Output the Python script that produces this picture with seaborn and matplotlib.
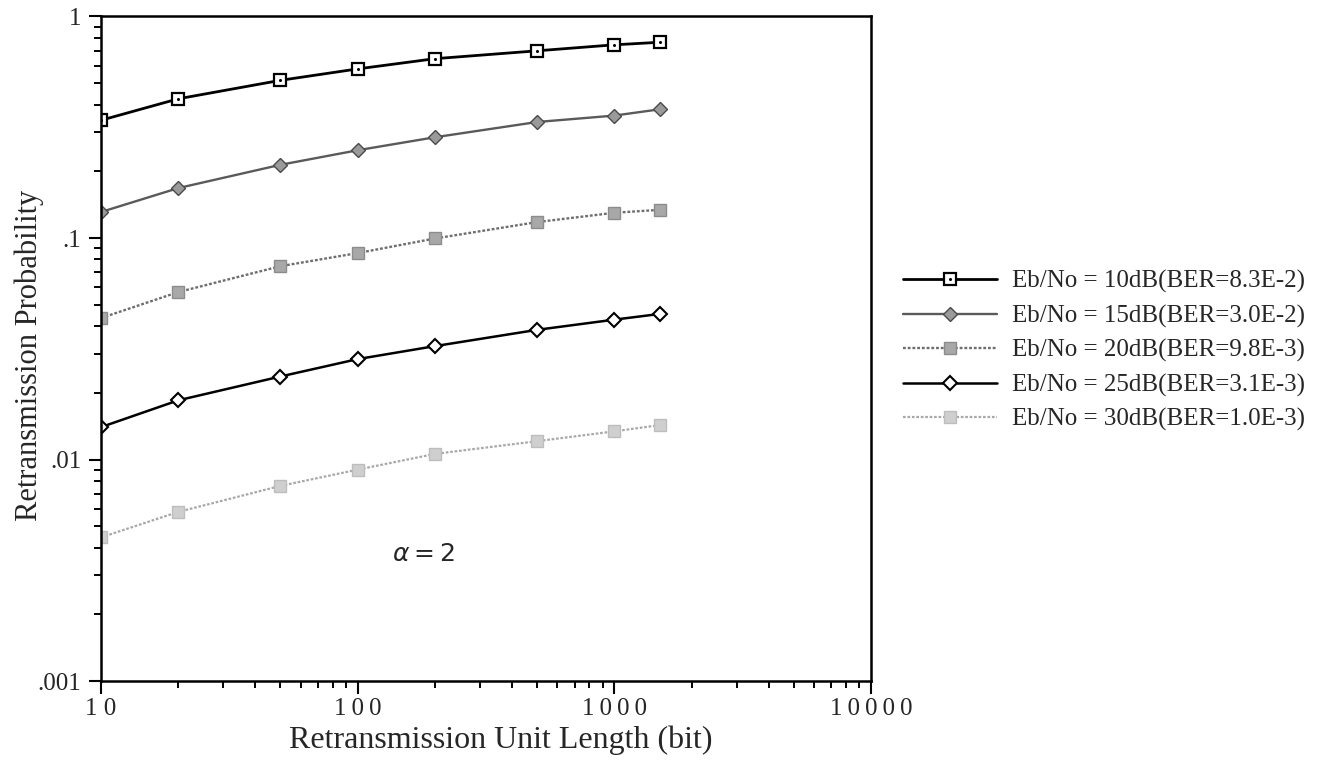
import numpy as np
import pandas as pd
import matplotlib
matplotlib.use("Agg")
import matplotlib.pyplot as plt
from matplotlib.ticker import LogLocator, NullFormatter, FixedLocator
import seaborn as sns

# Retransmission unit length (bit) and retransmission probability per Eb/No
unit_length = [10, 20, 50, 100, 200, 500, 1000, 1500]
p_10db = [0.34, 0.425, 0.515, 0.58, 0.645, 0.70, 0.745, 0.765]
p_15db = [0.131, 0.168, 0.214, 0.249, 0.285, 0.334, 0.357, 0.381]
p_20db = [0.0435, 0.057, 0.0746, 0.0855, 0.0995, 0.118, 0.130, 0.134]
p_25db = [0.0140, 0.0185, 0.0237, 0.0284, 0.0325, 0.0385, 0.0428, 0.0454]
p_30db = [0.00445, 0.0058, 0.0076, 0.0090, 0.0106, 0.0121, 0.0134, 0.0143]

series_labels = [
    "Eb/No = 10dB(BER=8.3E-2)",
    "Eb/No = 15dB(BER=3.0E-2)",
    "Eb/No = 20dB(BER=9.8E-3)",
    "Eb/No = 25dB(BER=3.1E-3)",
    "Eb/No = 30dB(BER=1.0E-3)",
]
x_tick_values = [10, 100, 1000, 10000]
x_tick_labels = ["1 0", "1\u20090\u20090", "1\u20090\u20090\u20090", "1\u20090\u20090\u20090\u20090"]
y_tick_values = [0.001, 0.01, 0.1, 1]
y_tick_labels = [".001", ".01", ".1", "1"]

sns.set_style("ticks")
plt.rcParams["font.family"] = ["Liberation Serif", "DejaVu Serif"]
plt.rcParams["mathtext.fontset"] = "dejavusans"

frames = []
for lab, vals in zip(series_labels, [p_10db, p_15db, p_20db, p_25db, p_30db]):
    frames.append(pd.DataFrame({"length": unit_length, "prob": vals, "series": lab}))
df = pd.concat(frames, ignore_index=True)

styles = {
    series_labels[0]: dict(color="black", lw=2.0, ls="-", marker="s", ms=8.5,
                           mfc="white", mec="black", mew=1.6),
    series_labels[1]: dict(color="#5a5a5a", lw=1.7, ls="-", marker="D", ms=7.5,
                           mfc="#9a9a9a", mec="#4a4a4a", mew=1.0),
    series_labels[2]: dict(color="#6e6e6e", lw=1.7, ls=(0, (1.2, 0.8)), marker="s", ms=9,
                           mfc="#a8a8a8", mec="#8c8c8c", mew=1.0),
    series_labels[3]: dict(color="black", lw=1.8, ls="-", marker="D", ms=7,
                           mfc="white", mec="black", mew=1.5),
    series_labels[4]: dict(color="#a8a8a8", lw=1.6, ls=(0, (1.2, 0.8)), marker="s", ms=9,
                           mfc="#cfcfcf", mec="#bdbdbd", mew=1.0),
}

fig = plt.figure(figsize=(13.37, 7.71), dpi=100)
ax = fig.add_axes([0.0755, 0.1167, 0.5760, 0.8619])

handles = []
for lab in series_labels:
    sub = df[df["series"] == lab]
    st = styles[lab]
    sns.lineplot(data=sub, x="length", y="prob", ax=ax, errorbar=None,
                 color=st["color"], linewidth=st["lw"], linestyle=st["ls"],
                 marker=st["marker"], markersize=st["ms"],
                 markerfacecolor=st["mfc"], markeredgecolor=st["mec"],
                 markeredgewidth=st["mew"], label=lab, legend=False)
    handles.append(ax.lines[-1])

# centre dots inside the square markers of the 10 dB curve
sub = df[df["series"] == series_labels[0]]
sns.lineplot(data=sub, x="length", y="prob", ax=ax, errorbar=None,
             color="black", linestyle="none", marker="o", markersize=2.2,
             markeredgewidth=0, legend=False)
dots = ax.lines[-1]

ax.set_xscale("log")
ax.set_yscale("log")
ax.set_xlim(10, 10000)
ax.set_ylim(0.001, 1)

ax.xaxis.set_major_locator(FixedLocator(x_tick_values))
ax.set_xticklabels(x_tick_labels)
ax.xaxis.set_minor_locator(LogLocator(base=10, subs=np.arange(2, 10)))
ax.xaxis.set_minor_formatter(NullFormatter())
ax.yaxis.set_major_locator(FixedLocator(y_tick_values))
ax.set_yticklabels(y_tick_labels)
ax.yaxis.set_minor_locator(LogLocator(base=10, subs=np.arange(2, 10)))
ax.yaxis.set_minor_formatter(NullFormatter())

for s in ax.spines.values():
    s.set_visible(True)
    s.set_linewidth(1.8)
    s.set_color("black")
ax.tick_params(which="major", direction="out", length=9, width=1.5, color="black",
               labelsize=18, pad=3)
ax.tick_params(which="minor", direction="out", length=5, width=1.4, color="black")
ax.tick_params(axis="y", which="major", pad=5)
ax.grid(False)

ax.set_xlabel("Retransmission Unit Length (bit)", fontsize=23)
ax.set_ylabel("Retransmission Probability", fontsize=22)
ax.xaxis.set_label_coords(0.519, -0.067)
ax.yaxis.set_label_coords(-0.074, 0.4906)

ax.text(180, 0.0037, r"$\alpha = 2$", fontsize=18, ha="center", va="center")

leg_handles = [(handles[0], dots)] + handles[1:]
fig.legend(leg_handles, series_labels, loc="upper left",
           bbox_to_anchor=(903 / 1337, 1 - 270 / 771), frameon=False,
           fontsize=18, handlelength=3.76, handletextpad=0.6,
           labelspacing=0.46, borderpad=0, borderaxespad=0, numpoints=1)

fig.savefig("out.png", dpi=100, facecolor="white")
